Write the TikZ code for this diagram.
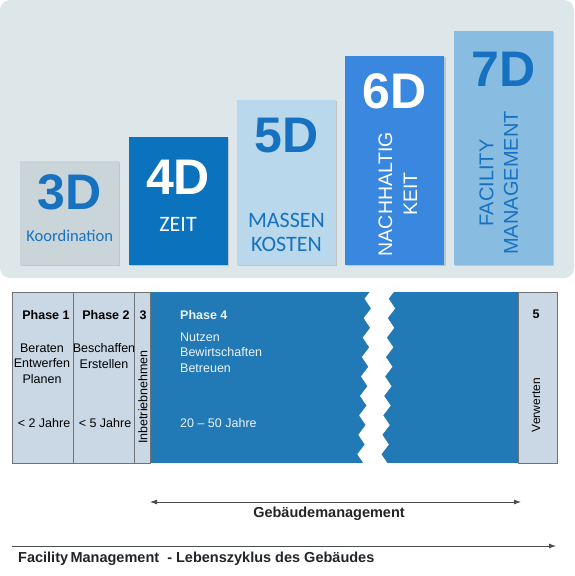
\documentclass[tikz,border=0pt]{standalone}
\usepackage{fontspec}
\setmainfont{Liberation Sans}
\newfontfamily\calfont{Carlito}
\usepackage{tikz}
\usetikzlibrary{arrows.meta,positioning,shadows,calc}
\definecolor{panelgray}{HTML}{DDE6E8}
\definecolor{dimgray}{HTML}{C9D5D9}
\definecolor{dimblue}{HTML}{0B73BD}
\definecolor{dimpale}{HTML}{B9D8EC}
\definecolor{dimbright}{HTML}{3A87E0}
\definecolor{dimsky}{HTML}{88BCE0}
\definecolor{labelblue}{HTML}{1672C0}
\definecolor{phaselight}{HTML}{CAD8E5}
\definecolor{phaseblue}{HTML}{2179B5}
\definecolor{gridgray}{HTML}{6E7378}
\definecolor{arrowgray}{HTML}{4A4D50}
\definecolor{captiondark}{HTML}{222426}
\tikzset{
  dimbox/.style={rectangle, fill=#1, inner sep=0pt, minimum width=99pt,
                 drop shadow={shadow xshift=1.2pt, shadow yshift=-1.2pt,
                              opacity=0.35, fill=black!45}},
  dimnum/.style={inner sep=0pt, text=#1, font=\fontsize{50}{50}\selectfont\bfseries},
  dimtext/.style={inner sep=0pt, text=#1, align=center,
                  font=\calfont\fontsize{22}{24}\selectfont},
  dimvert/.style={inner sep=0pt, text=#1, align=center, rotate=90,
                  font=\fontsize{19.5}{25}\selectfont},
  phasehead/.style={inner sep=0pt, text=#1, font=\fontsize{12.5}{15}\selectfont\bfseries},
  phasetext/.style={inner sep=0pt, text=#1, font=\fontsize{12.5}{15.5}\selectfont},
  arr/.style={draw=arrowgray, line width=0.8pt},
  caption/.style={inner sep=0pt, text=captiondark, font=\fontsize{14.5}{17}\selectfont\bfseries},
}
\begin{document}
\begin{tikzpicture}[x=1pt, y=-1pt]
  \useasboundingbox (0,0) rectangle (574,576);
  \fill[panelgray, rounded corners=10pt] (0,0) rectangle (574,278);

  % BIM dimensions
  \node[dimbox=dimgray, minimum height=104pt, anchor=south west] (d3) at (20,265) {};
  \node[dimbox=dimblue, minimum height=128pt, right=9pt of d3.south east, anchor=south west] (d4) {};
  \node[dimbox=dimpale, minimum height=165pt, right=9pt of d4.south east, anchor=south west] (d5) {};
  \node[dimbox=dimbright, minimum height=209pt, right=9pt of d5.south east, anchor=south west] (d6) {};
  \node[dimbox=dimsky, minimum height=234pt, right=9pt of d6.south east, anchor=south west] (d7) {};

  \node[dimnum=labelblue, below=14pt of d3.north] (n3) {3D};
  \node[dimnum=white, below=23pt of d4.north] (n4) {4D};
  \node[dimnum=labelblue, below=18.5pt of d5.north] (n5) {5D};
  \node[dimnum=white, below=18pt of d6.north] (n6) {6D};
  \node[dimnum=labelblue, below=21pt of d7.north] (n7) {7D};

  \node[dimtext=labelblue, font=\calfont\fontsize{16.5}{18}\selectfont]
        (l3) at ($(d3.south)+(0,-29)$) {Koordination};
  \node[dimtext=white] (l4) at ($(d4.south)+(0,-40.5)$) {ZEIT};
  \node[dimtext=labelblue] (l5) at ($(d5.south)+(0,-32.5)$) {MASSEN\\KOSTEN};
  \node[dimvert=white] (l6) at ($(d6.south)+(3,-71)$) {NACHHALTIG\\KEIT};
  \node[dimvert=labelblue, font=\fontsize{20}{24.5}\selectfont]
        (l7) at ($(d7.south)+(-4.5,-82)$) {FACILITY\\MANAGEMENT};

  % life cycle phases
  \fill[phaselight] (12,292) rectangle (150,463);
  \fill[phaselight] (518,292) rectangle (557,463);
  \fill[phaseblue] (150,292) rectangle (518,463);
  \fill[white] (372,289) \foreach \k in {1,...,9} { -- ++(-7.4,9.72) -- ++(6.5,9.72) }
        -- ++(24,0) \foreach \k in {1,...,9} { -- ++(-6.5,-9.72) -- ++(7.4,-9.72) } -- cycle;

  \node[phasehead=black, anchor=base] (p1) at (46,319) {Phase 1};
  \node[phasehead=black, anchor=base] (p2) at (106,319) {Phase 2};
  \node[phasehead=black, anchor=base] (p3) at (143,319) {3};
  \node[phasehead=white!92!phaseblue, anchor=base west] (p4) at (180,319) {Phase 4};
  \node[phasehead=black, anchor=base] (p5) at (536,318) {5};

  \node[phasetext=black, align=center, anchor=north] (a1) at (42,343.5) {Beraten\\Entwerfen\\Planen};
  \node[phasetext=black, align=center, anchor=north] (a2) at (104,343.5) {Beschaffen\\Erstellen};
  \node[phasetext=white!92!phaseblue, align=left, anchor=north west] (a4) at (180,332.5) {Nutzen\\Bewirtschaften\\Betreuen};
  \node[phasetext=black, rotate=90] (a3) at (143,397) {Inbetriebnehmen};
  \node[phasetext=black, rotate=90, font=\fontsize{12}{14}\selectfont] (a5) at (536,405) {Verwerten};

  \node[phasetext=black, anchor=base] (y1) at (44,427.5) {< 2 Jahre};
  \node[phasetext=black, anchor=base] (y2) at (105,427.5) {< 5 Jahre};
  \node[phasetext=white!92!phaseblue, anchor=base west] (y4) at (180,427.5) {20 – 50 Jahre};

  \draw[gridgray, line width=0.8pt] (12,292) rectangle (150,463);
  \draw[gridgray, line width=0.8pt] (73,292) -- (73,463);
  \draw[gridgray, line width=0.8pt] (134,292) -- (134,463);
  \draw[gridgray, line width=0.8pt] (518,292) rectangle (557,463);

  % management spans
  \coordinate (gmL) at (150,502);
  \coordinate (gmR) at (521,502);
  \coordinate (fmL) at (12,546);
  \coordinate (fmR) at (556,546);
  \draw[arr, {Latex[length=7pt,width=5pt]}-{Latex[length=7pt,width=5pt]}] (gmL) -- (gmR);
  \draw[arr, -{Latex[length=7pt,width=5pt]}] (fmL) -- (fmR);
  \node[caption] (gm) at (329,514) {Gebäudemanagement};
  \node[caption, anchor=base west] (fm) at (18,562) {Facility\,Management \ - Lebenszyklus des Gebäudes};
\end{tikzpicture}
\end{document}
